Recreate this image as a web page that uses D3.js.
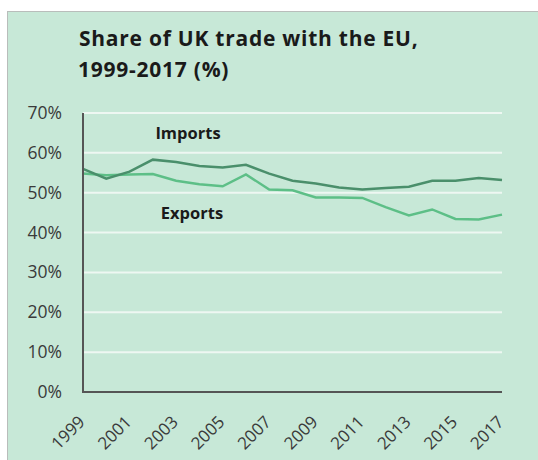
<!DOCTYPE html>
<html>
<head>
<meta charset="utf-8">
<script src="https://cdn.jsdelivr.net/npm/d3@7"></script>
<style>
  body { margin: 0; background: #fff; }
  text { font-family: "Open Sans", sans-serif; }
</style>
</head>
<body>
<svg width="538" height="460"></svg>
<script>
// data
let years = d3.range(1999, 2018);
let tickYears = [1999, 2001, 2003, 2005, 2007, 2009, 2011, 2013, 2015, 2017];
let imports = [56.0, 53.5, 55.3, 58.3, 57.7, 56.7, 56.3, 57.0, 54.8, 53.0, 52.3, 51.3, 50.8, 51.2, 51.5, 53.0, 53.0, 53.7, 53.2];
let exports = [54.8, 54.4, 54.6, 54.7, 53.0, 52.1, 51.6, 54.6, 50.8, 50.6, 48.8, 48.8, 48.7, 46.4, 44.3, 45.8, 43.4, 43.3, 44.5];
let yTicks = [0, 10, 20, 30, 40, 50, 60, 70];

let svg = d3.select("svg");

// panel
svg.append("rect")
  .attr("x", 7.5).attr("y", 11.5)
  .attr("width", 540).attr("height", 460)
  .attr("fill", "#c7e8d7")
  .attr("stroke", "#b9bdbb")
  .attr("stroke-width", 1);

// title
let title = svg.append("text")
  .attr("x", 78).attr("y", 46)
  .attr("font-size", 21).attr("font-weight", 700)
  .attr("letter-spacing", 0.75)
  .attr("fill", "#1a1a1a");
title.append("tspan").attr("x", 79).attr("dy", 0).text("Share of UK trade with the EU,");
title.append("tspan").attr("x", 78).attr("dy", 31).text("1999-2017 (%)");

let x = d3.scaleLinear().domain([1999, 2017]).range([83, 502]);
let y = d3.scaleLinear().domain([0, 70]).range([392, 113]);

let g = svg.append("g");

// gridlines
g.selectAll("line.grid")
  .data(yTicks.filter(function (d) { return d > 0; }))
  .enter()
  .append("line")
  .attr("class", "grid")
  .attr("x1", x(1999)).attr("x2", x(2017))
  .attr("y1", function (d) { return y(d); })
  .attr("y2", function (d) { return y(d); })
  .attr("stroke", "#eef7f2")
  .attr("stroke-width", 2);

// y labels
g.selectAll("text.ylab")
  .data(yTicks)
  .enter()
  .append("text")
  .attr("class", "ylab")
  .attr("x", 62)
  .attr("y", function (d) { return y(d) + 6; })
  .attr("text-anchor", "end")
  .attr("font-size", 17.5)
  .attr("fill", "#3a3a3a")
  .text(function (d) { return d + "%"; });

// x labels
g.selectAll("text.xlab")
  .data(tickYears)
  .enter()
  .append("text")
  .attr("class", "xlab")
  .attr("text-anchor", "end")
  .attr("font-size", 17)
  .attr("fill", "#3a3a3a")
  .attr("transform", function (d) {
    return "translate(" + (x(d) + 3) + "," + 423 + ") rotate(-45)";
  })
  .text(function (d) { return d; });

// lines
let line = d3.line()
  .x(function (d, i) { return x(years[i]); })
  .y(function (d) { return y(d); });

g.append("path")
  .datum(exports)
  .attr("d", line)
  .attr("fill", "none")
  .attr("stroke", "#5dbf87")
  .attr("stroke-width", 2.5);

g.append("path")
  .datum(imports)
  .attr("d", line)
  .attr("fill", "none")
  .attr("stroke", "#4a8f6b")
  .attr("stroke-width", 2.5);

// axes lines
g.append("line")
  .attr("x1", x(1999)).attr("x2", x(1999))
  .attr("y1", y(70)).attr("y2", y(0))
  .attr("stroke", "#555").attr("stroke-width", 2);
g.append("line")
  .attr("x1", x(1999) - 1).attr("x2", x(2017))
  .attr("y1", y(0)).attr("y2", y(0))
  .attr("stroke", "#555").attr("stroke-width", 2);

// series labels
g.append("text")
  .attr("x", 188).attr("y", 139)
  .attr("text-anchor", "middle")
  .attr("font-size", 16.5).attr("font-weight", 700)
  .attr("fill", "#1a1a1a")
  .text("Imports");
g.append("text")
  .attr("x", 192).attr("y", 219)
  .attr("text-anchor", "middle")
  .attr("font-size", 16.5).attr("font-weight", 700)
  .attr("fill", "#1a1a1a")
  .text("Exports");
</script>
</body>
</html>
